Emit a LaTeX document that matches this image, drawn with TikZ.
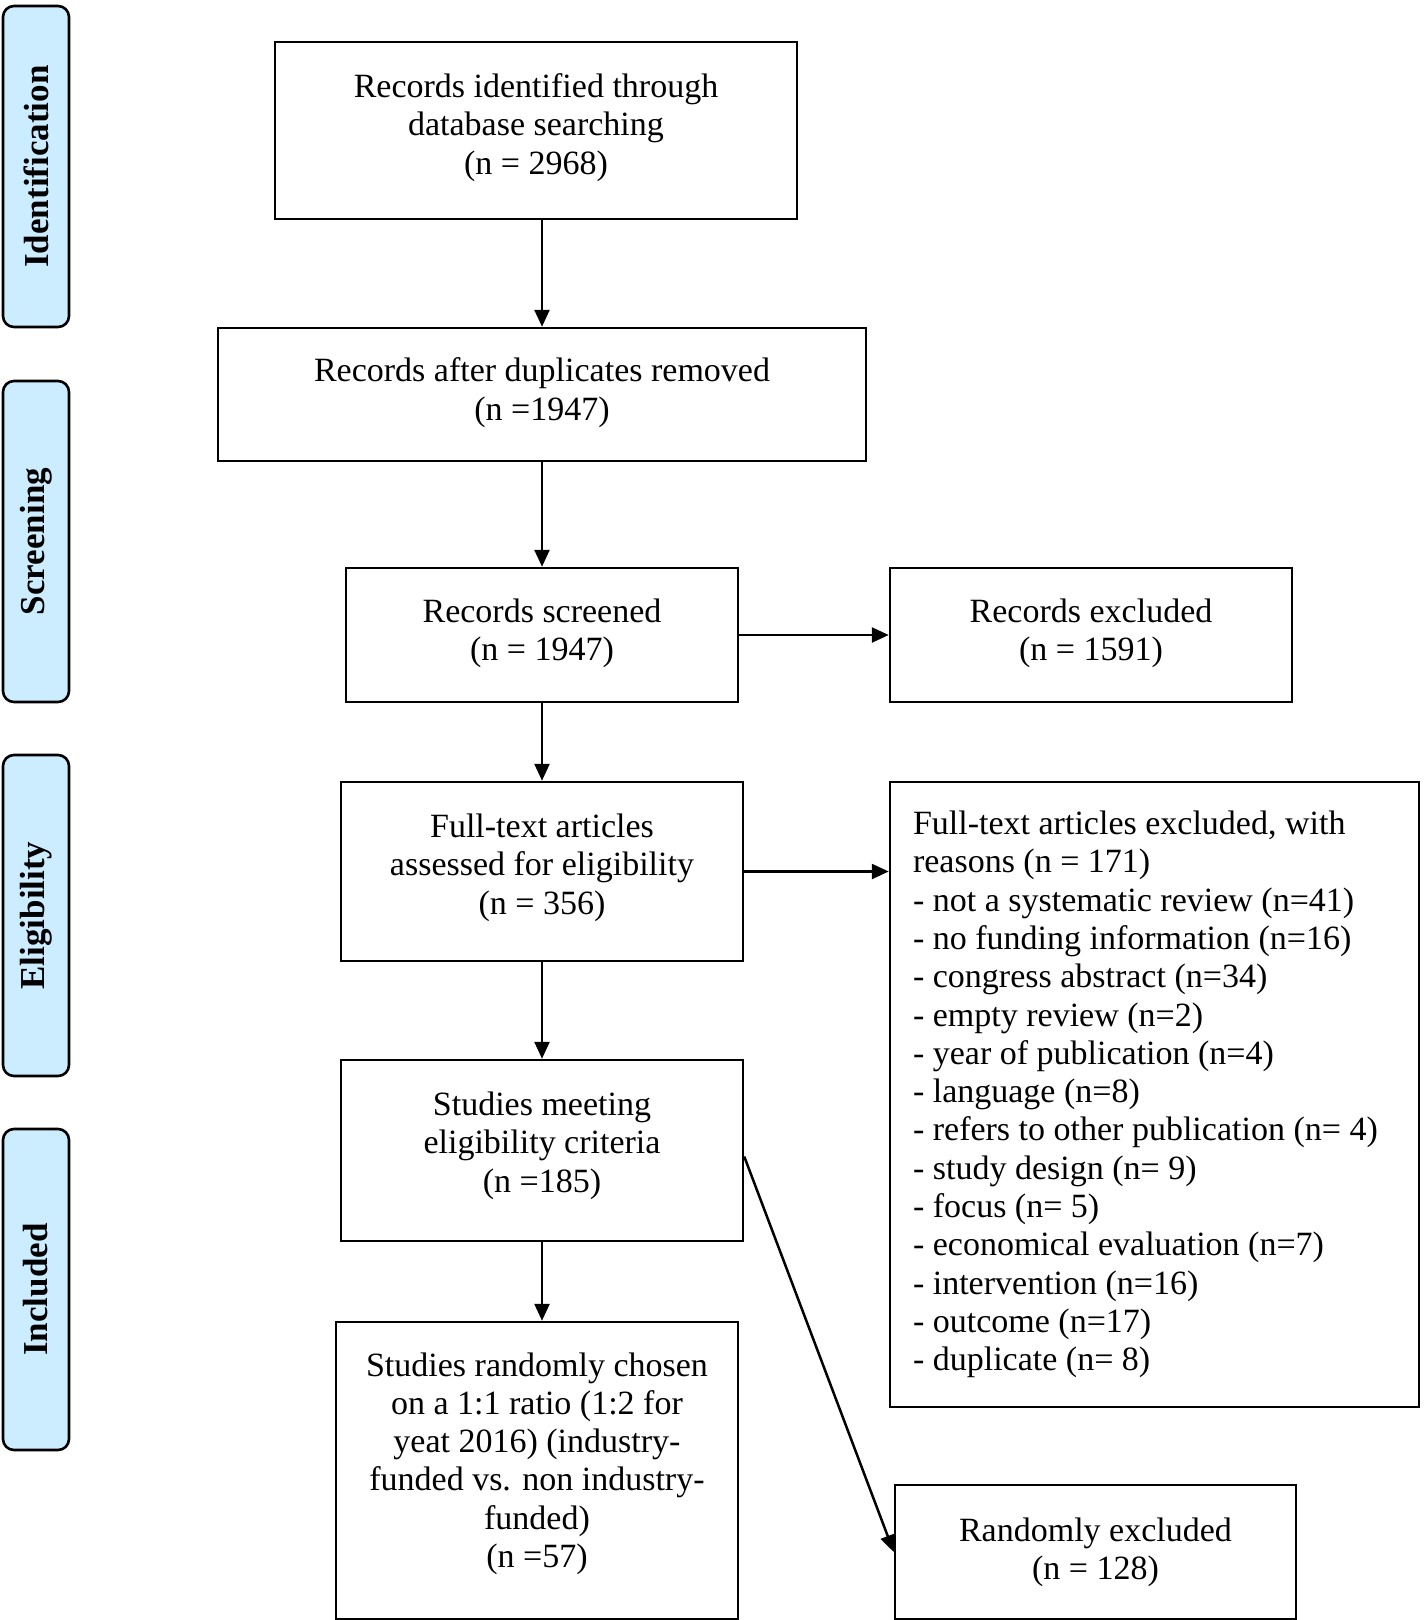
\documentclass[tikz,border=0pt]{standalone}
\usepackage{fontspec}
\setmainfont{Liberation Serif}
\usetikzlibrary{arrows.meta,calc}
\definecolor{sidefill}{RGB}{204,236,255}
\begin{document}
\begin{tikzpicture}[x=1pt,y=-1pt,
  box/.style={draw=black,line width=2.5pt,align=center,inner sep=0pt,font=\fontsize{34}{38.3}\selectfont},
  side/.style={draw=black,fill=sidefill,line width=2.6pt,rounded corners=11pt,rotate=90,inner sep=0pt,
    minimum width=321pt,minimum height=66pt,font=\fontsize{35}{40}\selectfont\bfseries},
  arr/.style={line width=2.5pt,-{Triangle[length=17pt,width=15pt]}}]
\useasboundingbox (0,0) rectangle (1424,1620);
% side labels
\node[side] (s1) at (36,166.5) {Identification};
\node[side] (s2) at (36,541.5) {Screening};
\node[side] (s3) at (36,915.5) {Eligibility};
\node[side] (s4) at (36,1289.5) {Included};
% boxes
\node[box,minimum width=522pt,minimum height=177pt,text depth=13pt] (b1) at (536,130.5)
  {Records identified through\\database searching\\(n = 2968)};
\node[box,minimum width=648pt,minimum height=133pt,text depth=11pt] (b2) at (542,394.5)
  {Records after duplicates removed\\(n =1947)};
\node[box,minimum width=392pt,minimum height=134pt,text depth=11pt] (b3) at (542,635)
  {Records screened\\(n = 1947)};
\node[box,minimum width=402pt,minimum height=134pt,text depth=11pt] (b4) at (1091,635)
  {Records excluded\\(n = 1591)};
\node[box,minimum width=402pt,minimum height=179pt,text depth=15pt] (b5) at (542,871.5)
  {Full-text articles\\assessed for eligibility\\(n = 356)};
\node[box,minimum width=529pt,minimum height=625pt,align=flush left,text width=483pt] (b6) at (1154.5,1094.5)
  {Full-text articles excluded, with\\reasons (n = 171)\\- not a systematic review (n=41)\\- no funding information (n=16)\\- congress abstract (n=34)\\- empty review (n=2)\\- year of publication (n=4)\\- language (n=8)\\- refers to other publication (n= 4)\\- study design (n= 9)\\- focus (n= 5)\\- economical evaluation (n=7)\\- intervention (n=16)\\- outcome (n=17)\\- duplicate (n= 8)};
\node[box,minimum width=402pt,minimum height=181pt,text depth=17pt] (b7) at (542,1150.5)
  {Studies meeting\\eligibility criteria\\(n =185)};
\node[box,minimum width=402pt,minimum height=297pt,text depth=21pt] (b8) at (537,1470.5)
  {Studies randomly chosen\\on a 1:1 ratio (1:2 for\\yeat 2016) (industry-\\funded vs. non industry-\\funded)\\(n =57)};
\node[box,minimum width=401pt,minimum height=134pt] (b9) at (1095.5,1552)
  {Randomly excluded\\(n = 128)};
% arrows
\draw[arr] (b1.south -| b2.north) -- (b2.north);
\draw[arr] (b2.south) -- (b3.north);
\draw[arr] (b3.east) -- (b4.west);
\draw[arr] (b3.south) -- (b5.north);
\draw[arr] (b5.east) -- (b5.east -| b6.west);
\draw[arr] (b5.south) -- (b7.north);
\draw[arr] (b7.south) -- (b7.south |- b8.north);
\draw[arr] ($(b7.east)+(0,6)$) -- (b9.west);
\end{tikzpicture}
\end{document}
